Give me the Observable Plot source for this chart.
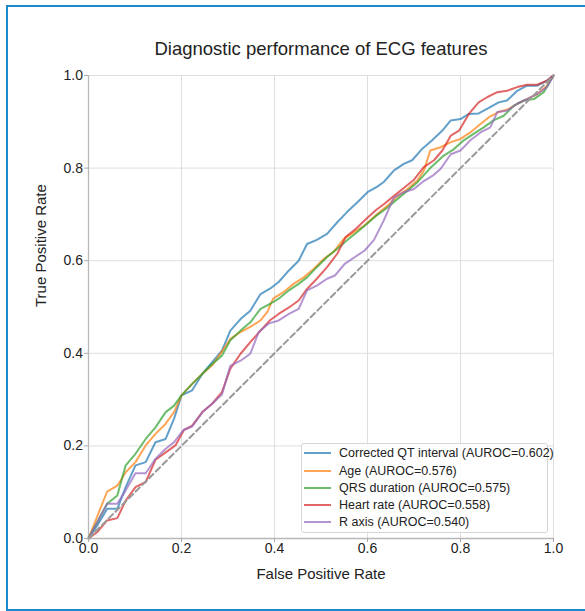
<!DOCTYPE html>
<html><head><meta charset="utf-8">
<script src="https://cdn.jsdelivr.net/npm/d3@7"></script>
<script src="https://cdn.jsdelivr.net/npm/@observablehq/plot@0.6"></script>
<style>
html,body{margin:0;padding:0;background:#fff;overflow:hidden;}
#wrap{position:relative;width:585px;height:611px;overflow:hidden;font-family:"Liberation Sans",Arial,Helvetica,sans-serif;}
#frame{position:absolute;left:6px;top:5px;width:620px;height:606px;box-sizing:border-box;border:2px solid #1e88c8;pointer-events:none;}
#chart{position:absolute;left:0;top:0;}
#legend{position:absolute;left:301px;top:443px;width:247px;height:90px;box-sizing:border-box;background:rgba(255,255,255,0.85);border:1px solid #d6d6d6;border-radius:3px;}
.lrow{position:absolute;left:0;height:16px;display:flex;align-items:center;font-size:12.5px;color:#222;white-space:nowrap;}
.lrow span.sw{display:inline-block;width:27px;height:2px;margin-left:2px;margin-right:8px;}
</style></head>
<body><div id="wrap"><div id="chart"></div><div id="legend"></div><div id="frame"></div></div>
<script>
// ---- data ----
const seriesNames = ["Corrected QT interval","Age","QRS duration","Heart rate","R axis"];
const aurocs = ["0.602","0.576","0.575","0.558","0.540"];
const seriesColors = ["#1f77b4","#ff7f0e","#2ca02c","#d62728","#9467bd"];
const tickValues = [0,0.2,0.4,0.6,0.8,1.0];

const fprQT = [0,0.02,0.04,0.062,0.08,0.101,0.123,0.144,0.166,0.184,0.2,0.223,0.245,0.266,0.287,0.305,0.327,0.348,0.37,0.391,0.409,0.431,0.452,0.47,0.491,0.513,0.535,0.556,0.58,0.6,0.621,0.635,0.657,0.678,0.696,0.718,0.739,0.761,0.779,0.8,0.818,0.839,0.861,0.882,0.9,0.922,0.943,0.965,0.986,1];
const tprQT = [0,0.03,0.064,0.064,0.111,0.158,0.165,0.208,0.215,0.259,0.309,0.32,0.356,0.381,0.406,0.449,0.474,0.492,0.528,0.54,0.554,0.579,0.6,0.636,0.645,0.658,0.683,0.705,0.728,0.748,0.76,0.77,0.795,0.809,0.817,0.842,0.86,0.881,0.903,0.906,0.917,0.918,0.93,0.942,0.946,0.967,0.978,0.978,0.989,1];

const fprAge = [0,0.04,0.062,0.08,0.101,0.123,0.144,0.166,0.184,0.2,0.223,0.245,0.266,0.281,0.305,0.327,0.348,0.37,0.385,0.397,0.419,0.441,0.463,0.484,0.506,0.527,0.549,0.57,0.592,0.621,0.643,0.664,0.686,0.707,0.721,0.735,0.757,0.779,0.8,0.821,0.839,0.861,0.882,0.904,0.922,0.943,0.965,0.986,1];
const tprAge = [0,0.1015,0.114,0.143,0.165,0.201,0.226,0.248,0.273,0.309,0.334,0.356,0.374,0.395,0.431,0.446,0.457,0.471,0.49,0.518,0.532,0.55,0.564,0.582,0.604,0.619,0.647,0.661,0.675,0.701,0.719,0.739,0.755,0.773,0.794,0.838,0.845,0.856,0.863,0.877,0.892,0.91,0.921,0.928,0.939,0.949,0.96,0.978,1];

const fprQRS = [0,0.04,0.062,0.08,0.101,0.123,0.144,0.166,0.184,0.2,0.223,0.245,0.266,0.287,0.305,0.327,0.348,0.37,0.391,0.409,0.431,0.452,0.47,0.491,0.513,0.535,0.556,0.578,0.599,0.62,0.643,0.664,0.686,0.707,0.735,0.764,0.786,0.807,0.828,0.85,0.871,0.893,0.915,0.936,0.958,0.979,1];
const tprQRS = [0,0.075,0.093,0.158,0.183,0.215,0.24,0.273,0.287,0.309,0.334,0.356,0.377,0.395,0.428,0.449,0.467,0.496,0.507,0.518,0.536,0.55,0.564,0.586,0.608,0.626,0.644,0.662,0.68,0.698,0.715,0.733,0.751,0.769,0.8,0.827,0.841,0.86,0.874,0.888,0.903,0.913,0.935,0.946,0.949,0.964,1];

const fprHR = [0,0.019,0.04,0.062,0.08,0.101,0.123,0.144,0.166,0.187,0.205,0.223,0.245,0.266,0.287,0.305,0.327,0.348,0.37,0.391,0.409,0.431,0.452,0.47,0.491,0.513,0.535,0.553,0.575,0.597,0.619,0.635,0.657,0.678,0.7,0.721,0.743,0.761,0.779,0.797,0.818,0.839,0.857,0.879,0.9,0.922,0.943,0.965,0.986,1];
const tprHR = [0,0.014,0.039,0.044,0.082,0.111,0.122,0.17,0.186,0.201,0.234,0.244,0.273,0.291,0.316,0.367,0.399,0.424,0.449,0.472,0.485,0.499,0.514,0.539,0.561,0.586,0.615,0.651,0.669,0.69,0.71,0.722,0.74,0.757,0.775,0.802,0.817,0.838,0.87,0.881,0.917,0.942,0.953,0.964,0.967,0.975,0.98,0.98,0.989,1];

const fprR = [0,0.04,0.062,0.08,0.101,0.123,0.144,0.166,0.184,0.205,0.223,0.245,0.266,0.287,0.305,0.327,0.348,0.366,0.387,0.409,0.431,0.452,0.47,0.491,0.513,0.53,0.551,0.573,0.594,0.614,0.635,0.657,0.678,0.7,0.721,0.742,0.757,0.779,0.8,0.821,0.843,0.864,0.879,0.9,0.922,0.943,0.965,0.986,1];
const tprR = [0,0.075,0.075,0.104,0.141,0.141,0.172,0.194,0.208,0.235,0.242,0.273,0.291,0.311,0.373,0.384,0.399,0.446,0.464,0.471,0.485,0.496,0.536,0.546,0.561,0.568,0.593,0.608,0.622,0.645,0.687,0.737,0.748,0.755,0.772,0.785,0.798,0.83,0.838,0.86,0.877,0.888,0.921,0.924,0.939,0.949,0.96,0.975,1];

const diagX = [0,1];
const diagY = [0,1];

// ---- build table ----
const fprs = [fprQT, fprAge, fprQRS, fprHR, fprR];
const tprs = [tprQT, tprAge, tprQRS, tprHR, tprR];
const rows = seriesNames.flatMap((name, k) => fprs[k].map((f, i) => ({series: name, fpr: f, tpr: tprs[k][i]})));
const diag = diagX.map((x, i) => ({fpr: x, tpr: diagY[i]}));

const font = "'Liberation Sans', Arial, Helvetica, sans-serif";
const plot = Plot.plot({
  width: 585, height: 611,
  marginLeft: 88, marginRight: 32, marginTop: 75, marginBottom: 73,
  style: {fontFamily: font, background: "transparent", color: "#222", overflow: "visible"},
  x: {domain: [0, 1]},
  y: {domain: [0, 1]},
  color: {domain: seriesNames, range: seriesColors},
  marks: [
    Plot.gridX(tickValues, {stroke: "#dedede", strokeOpacity: 1, strokeWidth: 1}),
    Plot.gridY(tickValues, {stroke: "#dedede", strokeOpacity: 1, strokeWidth: 1}),
    Plot.ruleX([0], {stroke: "#b8b8b8", strokeWidth: 1.3}),
    Plot.ruleY([0], {stroke: "#b8b8b8", strokeWidth: 1.3}),
    Plot.line(rows, {x: "fpr", y: "tpr", stroke: "series", z: "series", strokeOpacity: 0.7, strokeWidth: 2}),
    Plot.line(diag, {x: "fpr", y: "tpr", stroke: "#999", strokeWidth: 2, strokeDasharray: "6,3.5"}),
    Plot.axisX({ticks: tickValues, tickFormat: d3.format(".1f"), tickSize: 4, tickPadding: 1, fontSize: 14, label: null, stroke: "#aaa", fill: "#222"}),
    Plot.axisY({ticks: tickValues, tickFormat: d3.format(".1f"), tickSize: 4, tickPadding: 1.5, fontSize: 14, label: null, stroke: "#aaa", fill: "#222"}),
    Plot.text(["False Positive Rate"], {frameAnchor: "bottom", dy: 40.2, fontSize: 15, fill: "#222", text: d => d}),
    Plot.text(["True Positive Rate"], {frameAnchor: "left", dx: -47.8, rotate: -90, fontSize: 15, fill: "#222", text: d => d}),
    Plot.text(["Diagnostic performance of ECG features"], {frameAnchor: "top", dy: -33.9, fontSize: 18.5, fill: "#222", text: d => d})
  ]
});
document.getElementById("chart").appendChild(plot);

// ---- legend ----
const legend = document.getElementById("legend");
const rowTops = [1, 18.5, 35.5, 53, 70];
seriesNames.forEach((name, k) => {
  const r = document.createElement("div");
  r.className = "lrow";
  r.style.top = rowTops[k] + "px";
  const sw = document.createElement("span");
  sw.className = "sw";
  sw.style.background = seriesColors[k];
  sw.style.opacity = 0.7;
  r.appendChild(sw);
  const t = document.createElement("span");
  t.textContent = `${name} (AUROC=${aurocs[k]})`;
  r.appendChild(t);
  legend.appendChild(r);
});
</script>
</body></html>
